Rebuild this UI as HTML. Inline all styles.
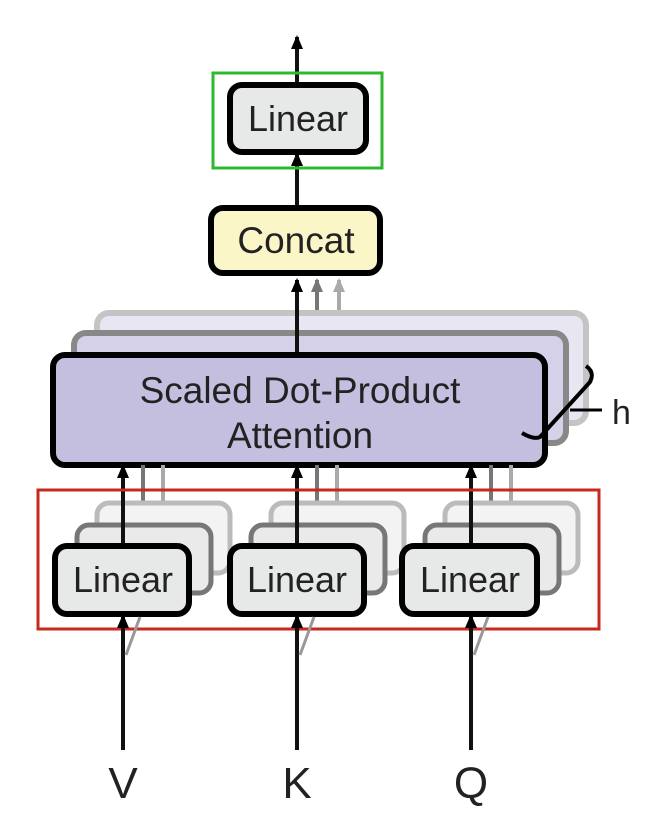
<!DOCTYPE html>
<html><head><meta charset="utf-8"><style>
html,body{margin:0;padding:0;background:#fff;}
svg{display:block;}
text{font-family:"Liberation Sans",sans-serif;fill:#222;}
</style></head><body>
<svg width="660" height="828" viewBox="0 0 660 828" xmlns="http://www.w3.org/2000/svg">
<defs>
<marker id="ah" markerWidth="14" markerHeight="14" refX="12" refY="7" orient="auto" markerUnits="userSpaceOnUse"><path d="M0,1 L14,7 L0,13 Z" fill="#000"/></marker>
<marker id="ahg" markerWidth="14" markerHeight="14" refX="12" refY="7" orient="auto" markerUnits="userSpaceOnUse"><path d="M0,1 L14,7 L0,13 Z" fill="#777"/></marker>
<marker id="ahl" markerWidth="14" markerHeight="14" refX="12" refY="7" orient="auto" markerUnits="userSpaceOnUse"><path d="M0,1 L14,7 L0,13 Z" fill="#aaa"/></marker>
</defs>

<line x1="297" y1="83" x2="297" y2="37" stroke="#111" stroke-width="4" marker-end="url(#ah)"/>
<line x1="297" y1="206" x2="297" y2="154" stroke="#111" stroke-width="4" marker-end="url(#ah)"/>
<rect x="213" y="73" width="169" height="95" fill="none" stroke="#2fb82f" stroke-width="3"/>
<rect x="230" y="85" width="136" height="67" rx="12" fill="#e6e9e7" stroke="#000" stroke-width="6"/>
<text x="298" y="131" font-size="36" text-anchor="middle">Linear</text>

<rect x="211" y="208" width="169" height="65" rx="12" fill="#fbf6c8" stroke="#000" stroke-width="6"/>
<text x="296" y="253" font-size="37" text-anchor="middle">Concat</text>

<line x1="339" y1="313" x2="339" y2="280" stroke="#aaa" stroke-width="4" marker-end="url(#ahl)"/>
<line x1="317" y1="333" x2="317" y2="280" stroke="#777" stroke-width="4" marker-end="url(#ahg)"/>

<rect x="97" y="313" width="489" height="110" rx="12" fill="#e8e6f2" stroke="#c4c4c4" stroke-width="6"/>
<rect x="74" y="333" width="492" height="110" rx="12" fill="#d5d1e8" stroke="#888" stroke-width="6"/>
<line x1="297" y1="355" x2="297" y2="280" stroke="#111" stroke-width="4" marker-end="url(#ah)"/>
<rect x="53" y="355" width="492" height="110" rx="12" fill="#c4bfdf" stroke="#000" stroke-width="6"/>
<text x="300" y="403" font-size="37" text-anchor="middle">Scaled Dot-Product</text>
<text x="300" y="448" font-size="37" text-anchor="middle">Attention</text>

<path d="M586,366 Q595,372 590,382 L540,437 Q534,440 522,433" fill="none" stroke="#000" stroke-width="4"/>
<line x1="570" y1="410" x2="602" y2="410" stroke="#000" stroke-width="3"/>
<text x="612" y="424" font-size="34">h</text>

<g>
<line x1="143" y1="525" x2="143" y2="465" stroke="#777" stroke-width="4"/>
<line x1="163" y1="503" x2="163" y2="465" stroke="#aaa" stroke-width="4"/>
<line x1="317" y1="525" x2="317" y2="465" stroke="#777" stroke-width="4"/>
<line x1="337" y1="503" x2="337" y2="465" stroke="#aaa" stroke-width="4"/>
<line x1="491" y1="525" x2="491" y2="465" stroke="#777" stroke-width="4"/>
<line x1="511" y1="503" x2="511" y2="465" stroke="#aaa" stroke-width="4"/>

<rect x="97" y="503" width="133" height="70" rx="12" fill="#f3f3f3" stroke="#bbb" stroke-width="5"/>
<rect x="271" y="503" width="133" height="70" rx="12" fill="#f3f3f3" stroke="#bbb" stroke-width="5"/>
<rect x="445" y="503" width="133" height="70" rx="12" fill="#f3f3f3" stroke="#bbb" stroke-width="5"/>
<rect x="77" y="525" width="134" height="68" rx="12" fill="#eaeaea" stroke="#777" stroke-width="5"/>
<rect x="251" y="525" width="134" height="68" rx="12" fill="#eaeaea" stroke="#777" stroke-width="5"/>
<rect x="425" y="525" width="134" height="68" rx="12" fill="#eaeaea" stroke="#777" stroke-width="5"/>

<line x1="123" y1="546" x2="123" y2="466" stroke="#111" stroke-width="4" marker-end="url(#ah)"/>
<line x1="297" y1="546" x2="297" y2="466" stroke="#111" stroke-width="4" marker-end="url(#ah)"/>
<line x1="471" y1="546" x2="471" y2="466" stroke="#111" stroke-width="4" marker-end="url(#ah)"/>

<rect x="55" y="546" width="134" height="68" rx="12" fill="#e6e9e7" stroke="#000" stroke-width="6"/>
<rect x="230" y="546" width="134" height="68" rx="12" fill="#e6e9e7" stroke="#000" stroke-width="6"/>
<rect x="402" y="546" width="135" height="68" rx="12" fill="#e6e9e7" stroke="#000" stroke-width="6"/>
<text x="123" y="592" font-size="36" text-anchor="middle">Linear</text>
<text x="297" y="592" font-size="36" text-anchor="middle">Linear</text>
<text x="470" y="592" font-size="36" text-anchor="middle">Linear</text>
</g>

<rect x="38" y="490" width="561" height="139" fill="none" stroke="#c8281e" stroke-width="3"/>

<line x1="123" y1="750" x2="123" y2="616" stroke="#111" stroke-width="4" marker-end="url(#ah)"/>
<line x1="297" y1="750" x2="297" y2="616" stroke="#111" stroke-width="4" marker-end="url(#ah)"/>
<line x1="471" y1="750" x2="471" y2="616" stroke="#111" stroke-width="4" marker-end="url(#ah)"/>
<line x1="126" y1="655" x2="140" y2="617" stroke="#999" stroke-width="3"/>
<line x1="300" y1="655" x2="314" y2="617" stroke="#999" stroke-width="3"/>
<line x1="474" y1="655" x2="488" y2="617" stroke="#999" stroke-width="3"/>

<text x="123" y="798" font-size="44" text-anchor="middle">V</text>
<text x="297" y="798" font-size="44" text-anchor="middle">K</text>
<text x="471" y="798" font-size="44" text-anchor="middle">Q</text>
</svg>
</body></html>
